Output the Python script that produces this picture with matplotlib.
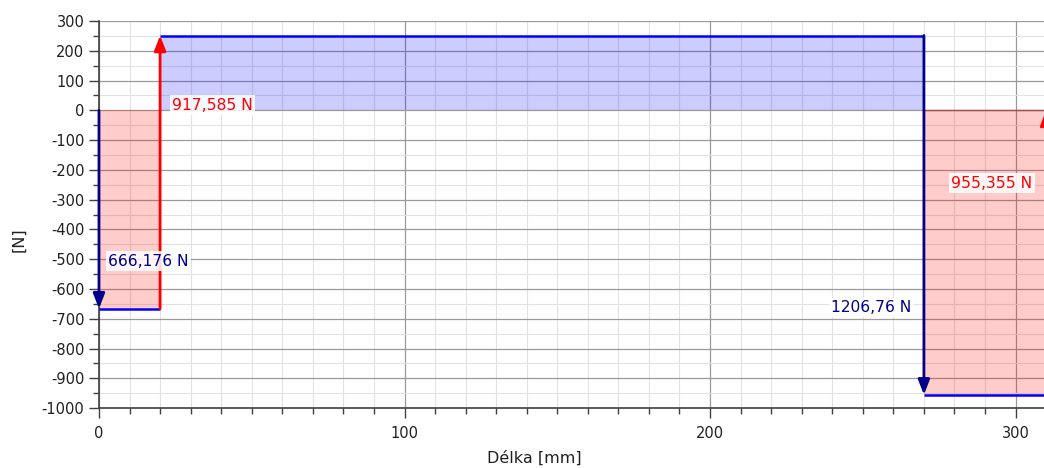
import numpy as np
import matplotlib
matplotlib.use("Agg")
import matplotlib.pyplot as plt
from matplotlib.ticker import MultipleLocator

plt.rcParams["axes.unicode_minus"] = False

# Point loads along the beam: position [mm] and force [N]
positions = [0, 20, 270, 310]
forces = [-666.176, 917.585, -1206.76, 955.355]
force_labels = ["666,176 N", "917,585 N", "1206,76 N", "955,355 N"]

# Shear force after each load
shear = np.cumsum(forces)

BLUE = "#0000ff"
NAVY = "#00008b"
RED = "#ff0000"

fig = plt.figure(figsize=(10.44, 4.68), dpi=100)
ax = fig.add_axes([0.0948, 0.128, 0.9052, 0.827])

# Filled segments between loads (semi-transparent, grid shows through)
for i in range(len(positions) - 1):
    x0, x1 = positions[i], positions[i + 1]
    v = shear[i]
    fill = BLUE if v > 0 else RED
    ax.fill_between([x0, x1], [0, 0], [v, v], color=fill, alpha=0.2, lw=0, zorder=2)
    ax.plot([x0, x1], [v, v], color=BLUE, lw=1.8, zorder=3, solid_capstyle="butt")

# Zero line above the negative part on the right
ax.plot([positions[2], positions[3]], [0, 0], color="#a05050", lw=1.0, zorder=2)

# Load arrows
start = 0.0
for x, f in zip(positions, forces):
    end = start + f
    col = RED if f > 0 else NAVY
    ax.annotate(
        "",
        xy=(x, end),
        xytext=(x, start),
        arrowprops=dict(arrowstyle="-|>,head_length=0.9,head_width=0.35",
                        color=col, lw=2, shrinkA=0, shrinkB=0),
        zorder=4,
        annotation_clip=False,
    )
    start = end

# Force labels
label_xy = [(3, -507), (24, 17), (266, -662), (279, -245)]
label_ha = ["left", "left", "right", "left"]
for (lx, ly), ha, txt, f in zip(label_xy, label_ha, force_labels, forces):
    col = RED if f > 0 else NAVY
    ax.text(lx, ly, txt, color=col, fontsize=11.2, ha=ha, va="center", zorder=5,
            bbox=dict(boxstyle="square,pad=0.15", fc="white", ec="none", alpha=0.85))

ax.set_xlim(0, 309.3)
ax.set_ylim(-1000, 300)

ax.xaxis.set_major_locator(MultipleLocator(100))
ax.xaxis.set_minor_locator(MultipleLocator(10))
ax.yaxis.set_major_locator(MultipleLocator(100))
ax.yaxis.set_minor_locator(MultipleLocator(50))

ax.grid(which="major", color="#9a9a9a", lw=0.9, zorder=0)
ax.grid(which="minor", color="#e2e2e2", lw=0.8, zorder=0)
ax.set_axisbelow(True)

for side in ["top", "right"]:
    ax.spines[side].set_visible(False)
for side in ["left", "bottom"]:
    ax.spines[side].set_color("#404040")
    ax.spines[side].set_linewidth(1.2)

ax.tick_params(which="major", length=7, width=1, color="#404040",
               labelsize=10.5, labelcolor="#202020")
ax.tick_params(which="minor", length=4, width=1, color="#404040")
ax.tick_params(axis="x", pad=6)

ax.set_xlabel("Délka [mm]", fontsize=11.5, color="#202020")
ax.set_ylabel("[N]", fontsize=11.5, color="#202020")
ax.xaxis.set_label_coords(0.461, -0.11)
ax.yaxis.set_label_coords(-0.077, 0.434)

fig.savefig("out.png", dpi=100)
